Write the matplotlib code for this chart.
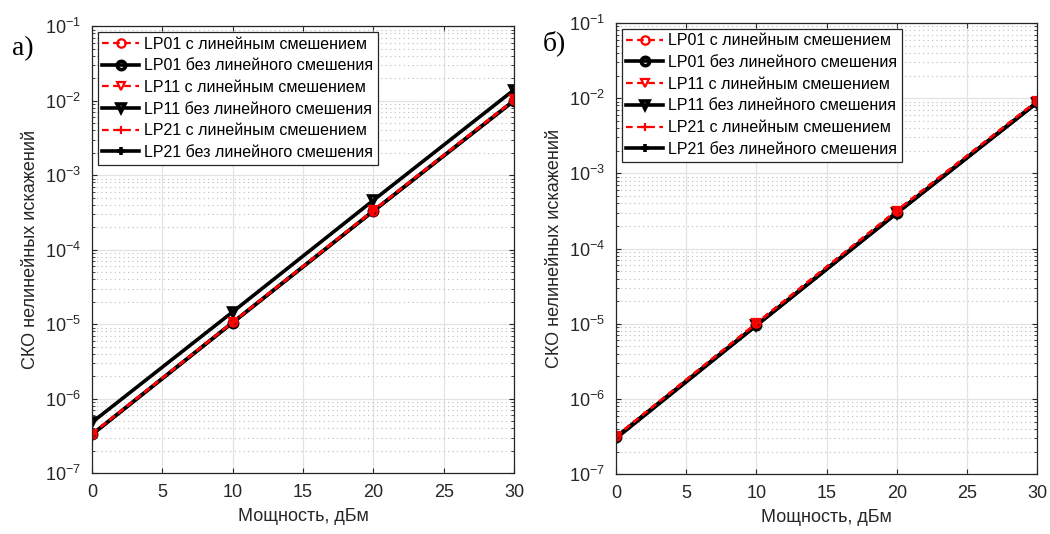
import matplotlib.pyplot as plt
from matplotlib.ticker import NullFormatter

plt.rcParams['font.family'] = ['Liberation Sans', 'DejaVu Sans']
plt.rcParams['mathtext.fontset'] = 'custom'
plt.rcParams['mathtext.rm'] = 'Liberation Sans'

power = [0, 10, 20, 30]

# panel a)
a_lp01_lin = [3.35e-7, 1.06e-5, 3.35e-4, 1.02e-2]
a_lp01_nolin = [3.3e-7, 1.05e-5, 3.3e-4, 1.0e-2]
a_lp11_lin = [3.4e-7, 1.07e-5, 3.4e-4, 1.04e-2]
a_lp11_nolin = [4.8e-7, 1.46e-5, 4.6e-4, 1.4e-2]
a_lp21_lin = [3.35e-7, 1.06e-5, 3.33e-4, 1.02e-2]
a_lp21_nolin = [3.3e-7, 1.05e-5, 3.3e-4, 1.0e-2]

# panel б)
b_lp01_lin = [3.2e-7, 1.02e-5, 3.2e-4, 9.2e-3]
b_lp01_nolin = [3.1e-7, 9.6e-6, 3.0e-4, 8.8e-3]
b_lp11_lin = [3.2e-7, 1.01e-5, 3.2e-4, 9.1e-3]
b_lp11_nolin = [3.0e-7, 9.5e-6, 2.95e-4, 8.7e-3]
b_lp21_lin = [3.2e-7, 1.02e-5, 3.2e-4, 9.2e-3]
b_lp21_nolin = [3.1e-7, 9.6e-6, 3.0e-4, 8.8e-3]

labels = ['LP01 с линейным смешением', 'LP01 без линейного смешения',
          'LP11 с линейным смешением', 'LP11 без линейного смешения',
          'LP21 с линейным смешением', 'LP21 без линейного смешения']
markers = ['o', 'o', 'v', 'v', '+', '+']
colors = ['red', 'black', 'red', 'black', 'red', 'black']
styles = ['--', '-', '--', '-', '--', '-']
widths = [1.6, 2.6, 1.6, 2.6, 1.6, 2.6]

panels = [
    ('а)', [a_lp01_lin, a_lp01_nolin, a_lp11_lin, a_lp11_nolin, a_lp21_lin, a_lp21_nolin],
     [0.0876, 0.114, 0.402, 0.837], (0.011, 0.897)),
    ('б)', [b_lp01_lin, b_lp01_nolin, b_lp11_lin, b_lp11_nolin, b_lp21_lin, b_lp21_nolin],
     [0.5867, 0.112, 0.401, 0.845], (0.517, 0.906)),
]

fig = plt.figure(figsize=(10.5, 5.34), dpi=100)

for letter, series, pos, lpos in panels:
    ax = fig.add_axes(pos)
    # black lines underneath, thin red dashed on top
    order = [1, 3, 5, 0, 2, 4]
    handles = {}
    for i in order:
        h, = ax.plot(power, series[i], linestyle=styles[i], color=colors[i],
                     marker=markers[i], markersize=6, markerfacecolor='none',
                     markeredgewidth=widths[i], linewidth=widths[i],
                     dashes=(3, 2) if styles[i] == '--' else (None, None),
                     label=labels[i])
        handles[i] = h
    ax.set_yscale('log')
    ax.set_xlim(0, 30)
    ax.set_ylim(1e-7, 1e-1)
    ax.set_xticks([0, 5, 10, 15, 20, 25, 30])
    ax.yaxis.set_minor_formatter(NullFormatter())
    ax.grid(True, which='major', color='#e3e3e3', linewidth=0.9)
    ax.grid(True, which='minor', axis='y', color='#bdbdbd', linestyle=(0, (1, 3)), linewidth=0.8)
    ax.tick_params(which='both', direction='in', top=True, right=True,
                   labelsize=13, colors='#262626', pad=8)
    ax.tick_params(which='minor', length=2)
    for s in ax.spines.values():
        s.set_color('#262626')
        s.set_linewidth(0.9)
    ax.set_xlabel('Мощность, дБм', fontsize=13, color='#262626', labelpad=5)
    ax.set_ylabel('СКО нелинейных искажений', fontsize=13, color='#262626', labelpad=4)
    leg = ax.legend([handles[i] for i in range(6)], labels, loc='upper left',
                    fontsize=11.5, fancybox=False, framealpha=1, edgecolor='#262626',
                    borderaxespad=0.35, handlelength=2.3, handletextpad=0.3,
                    labelspacing=0.42, borderpad=0.3)
    leg.get_frame().set_linewidth(0.9)
    fig.text(lpos[0], lpos[1], letter, fontsize=20, family='Liberation Serif')

fig.savefig('out.png', dpi=100)
